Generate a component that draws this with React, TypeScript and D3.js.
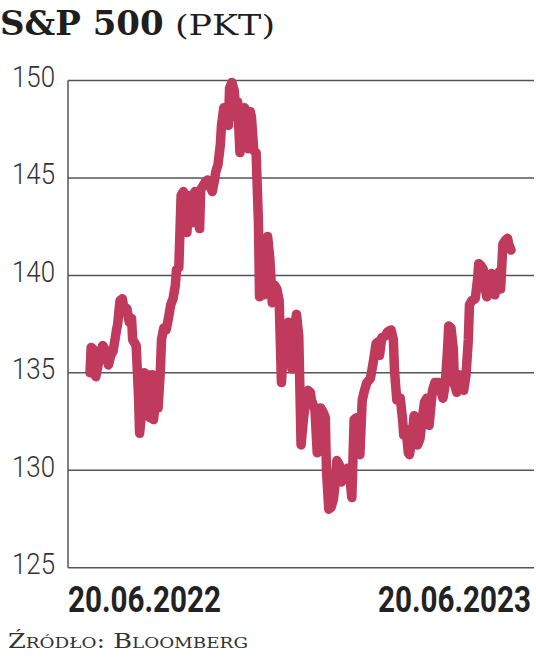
import * as d3 from 'd3';

// S&P 500 (pkt), days counted from 20.06.2022
const tradingDays = [
  0, 1, 3, 5, 8, 11, 13, 16, 18, 20, 23, 24, 26, 28, 30, 32, 34, 36, 37, 40,
  42, 43, 45, 47, 49, 50, 52, 54, 55, 57, 59, 61, 62, 64, 66, 68, 70, 72, 74, 75,
  77, 79, 81, 82, 84, 86, 88, 89, 91, 93, 95, 96, 98, 100, 102, 104, 106, 108, 109, 111,
  113, 114, 116, 118, 120, 121, 123, 125, 127, 128, 130, 132, 134, 135, 137, 139, 140, 142, 144, 146,
  147, 149, 151, 153, 154, 156, 158, 160, 162, 164, 166, 168, 170, 172, 173, 175, 177, 179, 181, 183,
  185, 187, 189, 191, 192, 195, 197, 199, 200, 202, 204, 205, 207, 209, 211, 212, 214, 216, 218, 221,
  223, 225, 227, 229, 231, 232, 234, 236, 238, 240, 243, 244, 246, 248, 250, 251, 253, 256, 258, 261,
  263, 264, 266, 269, 271, 272, 274, 276, 277, 279, 281, 283, 284, 286, 288, 290, 292, 294, 296, 297,
  299, 302, 304, 306, 308, 310, 311, 313, 315, 316, 318, 320, 323, 324, 326, 328, 329, 331, 334, 336,
  337, 339, 341, 342, 344, 346, 348, 349, 351, 353, 355, 356, 358, 360, 362, 363, 365,
];

const closes = [
  135.0, 136.3, 136.2, 134.8, 135.7, 136.4, 136.2, 135.4, 135.9, 136.1, 137.2, 137.5, 138.7, 138.8, 138.1, 138.3, 137.6, 137.8, 136.7, 136.4,
  133.9, 131.9, 133.1, 135.0, 132.8, 134.9, 132.7, 134.9, 132.6, 133.6, 133.2, 135.1, 136.7, 137.3, 137.2, 137.8, 138.5, 138.8, 139.5, 140.3,
  140.4, 144.1, 144.3, 144.1, 142.2, 144.1, 144.0, 142.7, 144.3, 144.1, 142.4, 144.4, 144.6, 144.8, 144.9, 144.6, 144.3, 144.9, 145.3, 145.7,
  146.7, 147.7, 148.6, 148.5, 147.7, 149.6, 149.9, 149.5, 148.1, 148.9, 146.3, 148.5, 148.6, 148.2, 146.5, 148.4, 148.1, 146.4, 146.3, 142.8,
  138.9, 139.8, 139.0, 141.3, 142.0, 140.8, 138.6, 139.5, 139.3, 138.7, 134.5, 136.7, 137.3, 137.6, 136.7, 135.2, 137.2, 138.0, 136.9, 131.3,
  132.6, 133.6, 134.1, 134.0, 133.6, 133.1, 130.9, 133.1, 133.2, 133.0, 132.7, 130.0, 128.0, 128.1, 128.5, 129.0, 130.5, 130.3, 129.4, 130.0,
  130.1, 129.8, 128.6, 132.6, 132.7, 132.1, 130.8, 133.6, 134.1, 134.5, 134.7, 135.0, 135.7, 136.5, 136.6, 135.9, 136.8, 136.9, 137.1, 137.2,
  136.7, 135.1, 133.6, 133.7, 132.6, 131.8, 132.1, 130.9, 130.8, 131.6, 132.8, 132.7, 131.3, 131.6, 132.6, 133.5, 133.7, 132.3, 133.6, 134.1,
  134.5, 134.5, 134.1, 133.7, 134.4, 136.2, 137.4, 137.3, 136.2, 134.4, 134.0, 134.9, 134.4, 134.1, 134.9, 136.7, 138.5, 138.7, 138.8, 139.8,
  140.6, 140.5, 140.3, 139.5, 138.9, 139.5, 140.1, 139.7, 139.0, 140.0, 140.2, 139.3, 141.6, 141.8, 141.9, 141.6, 141.3,
];

const yTicks = [125, 130, 135, 140, 145, 150];
const xLabels = ['20.06.2022', '20.06.2023'];

const W = 536;
const H = 657;
const plotLeft = 68;
const plotRight = 534;
const plotTop = 80.5;
const plotBottom = 567.7;

export default function App() {
  const x = d3.scaleLinear().domain([0, 365]).range([90, 511]);
  const y = d3.scaleLinear().domain([125, 150]).range([plotBottom, plotTop]);

  const points = tradingDays.map((d, i) => [d, closes[i]] as [number, number]);
  const path = d3
    .line<[number, number]>()
    .x((d) => x(d[0]))
    .y((d) => y(d[1]))(points);

  const xLabelStyle = {
    fontFamily: 'Roboto, sans-serif',
    fontWeight: 'bold' as const,
    fontSize: 37,
    fill: '#222',
  };

  return (
    <svg
      width={W}
      height={H}
      style={{ position: 'absolute', left: 0, top: 0, background: '#fff' }}
    >
      {/* title */}
      <text x={0} y={35} fill="#1e1e1e">
        <tspan fontFamily="'DejaVu Serif', serif" fontWeight="bold" fontSize={34}>
          S&amp;P 500
        </tspan>
        <tspan
          x={175}
          fontFamily="'DejaVu Serif', serif"
          fontSize={27}
          textLength={100}
          lengthAdjust="spacingAndGlyphs"
        >
          (PKT)
        </tspan>
      </text>

      {/* grid lines */}
      {yTicks.map((t) => (
        <line
          key={t}
          x1={plotLeft}
          x2={plotRight}
          y1={y(t)}
          y2={y(t)}
          stroke="#555"
          strokeWidth={1.5}
        />
      ))}
      <line x1={plotLeft} x2={plotLeft} y1={plotTop} y2={plotBottom} stroke="#555" strokeWidth={1.5} />

      {/* y labels */}
      {yTicks.map((t) => (
        <text
          key={'l' + t}
          x={55}
          y={y(t) + 6.5}
          textAnchor="end"
          fontFamily="Roboto, sans-serif"
          fontWeight={300}
          fontSize={30}
          textLength={43}
          lengthAdjust="spacingAndGlyphs"
          fill="#333"
        >
          {t}
        </text>
      ))}

      {/* series */}
      <path
        d={path || ''}
        fill="none"
        stroke="#C03A5E"
        strokeWidth={9.5}
        strokeLinejoin="round"
        strokeLinecap="round"
      />

      {/* x labels, narrowed to match the condensed face */}
      <text transform={`translate(${plotLeft},612) scale(0.8,1)`} {...xLabelStyle}>
        {xLabels[0]}
      </text>
      <text
        transform={`translate(${plotRight - 3},612) scale(0.8,1)`}
        textAnchor="end"
        {...xLabelStyle}
      >
        {xLabels[1]}
      </text>

      {/* source */}
      <text
        x={8}
        y={648}
        fontFamily="'DejaVu Serif', serif"
        fontSize={21}
        textLength={240}
        lengthAdjust="spacingAndGlyphs"
        fill="#333"
        style={{ fontVariant: 'small-caps' }}
      >
        Źródło: Bloomberg
      </text>
    </svg>
  );
}
